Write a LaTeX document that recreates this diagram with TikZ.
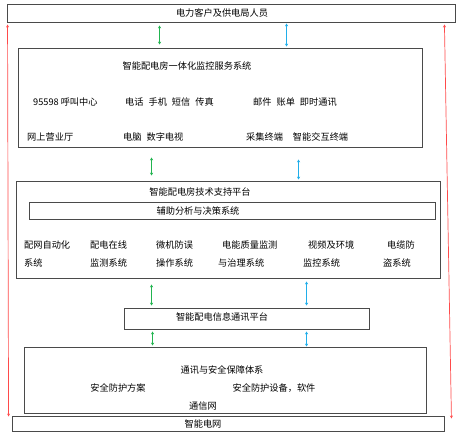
\documentclass[tikz,border=0pt]{standalone}
\usepackage{fontspec}
\usepackage{xcolor}
\usepackage{tikz}
\usetikzlibrary{arrows.meta}
\newfontfamily\cjk{Noto Sans CJK SC}

\definecolor{boxgray}{HTML}{4A4A4A}
\definecolor{arrgreen}{HTML}{22B450}
\definecolor{arrblue}{HTML}{20AEEA}
\definecolor{arrred}{HTML}{FF4A4A}

\tikzset{
  box/.style={draw=boxgray, line width=0.9pt, rectangle, inner sep=0pt},
  txt/.style={inner sep=0pt, font=\cjk\fontsize{9.2}{11}\selectfont},
  ltxt/.style={txt, anchor=west},
  greenarr/.style={draw=arrgreen, line width=1pt, {Stealth[length=3pt,width=3.2pt]}-{Stealth[length=3pt,width=3.2pt]}},
  bluearr/.style={draw=arrblue, line width=1pt, {Stealth[length=3pt,width=3.2pt]}-{Stealth[length=3pt,width=3.2pt]}},
  redarr/.style={draw=arrred, line width=0.7pt, {Stealth[length=3pt,width=3pt]}-{Stealth[length=3pt,width=3pt]}}
}
\newcommand{\gap}{\hspace{5pt}}

\begin{document}
\begin{tikzpicture}[x=1pt,y=-1pt]
\useasboundingbox (0,0) rectangle (461,437);

% the boxes
\node[box, minimum width=448pt, minimum height=18pt] (users) at (231,13) {};
\node[box, minimum width=404pt, minimum height=99pt] (service) at (220,97.5) {};
\node[box, minimum width=424pt, minimum height=97pt] (support) at (228,229.5) {};
\node[box, minimum width=406pt, minimum height=17pt] (decision) at (232,210.5) {};
\node[box, minimum width=245pt, minimum height=21pt] (comm) at (246.5,318.5) {};
\node[box, minimum width=402pt, minimum height=66pt] (security) at (225,380) {};
\node[box, minimum width=432pt, minimum height=15pt] (grid) at (228,423.5) {};

% texts
\node[txt] (usersT) at (222,13) {电力客户及供电局人员};

\node[txt] (serviceT) at (187,66) {智能配电房一体化监控服务系统};
\node[ltxt] (callT) at (33,102) {95598 呼叫中心};
\node[ltxt] (phoneT) at (125,102) {电话\gap 手机\gap 短信\gap 传真};
\node[ltxt] (mailT) at (253,102) {邮件\gap 账单\gap 即时通讯};
\node[ltxt] (webT) at (27,137) {网上营业厅};
\node[ltxt] (pcT) at (123,137) {电脑\gap 数字电视};
\node[ltxt] (termT) at (246,137) {采集终端\gap\gap 智能交互终端};

\node[txt] (supportT) at (200,192) {智能配电房技术支持平台};
\node[txt] (decisionT) at (198,210.5) {辅助分析与决策系统};
\node[ltxt] (sysA1) at (24,245) {配网自动化};
\node[ltxt] (sysA2) at (24,263) {系统};
\node[ltxt] (sysB1) at (90,245) {配电在线};
\node[ltxt] (sysB2) at (90,263) {监测系统};
\node[ltxt] (sysC1) at (156,245) {微机防误};
\node[ltxt] (sysC2) at (156,263) {操作系统};
\node[ltxt] (sysD1) at (222,245) {电能质量监测};
\node[ltxt] (sysD2) at (218,263) {与治理系统};
\node[ltxt] (sysE1) at (308,245) {视频及环境};
\node[ltxt] (sysE2) at (303,263) {监控系统};
\node[ltxt] (sysF1) at (387,245) {电缆防};
\node[ltxt] (sysF2) at (383,263) {盗系统};

\node[txt] (commT) at (222,317) {智能配电信息通讯平台};

\node[txt] (securityT) at (222,370) {通讯与安全保障体系};
\node[txt] (planT) at (118,388) {安全防护方案};
\node[txt] (devT) at (274,388) {安全防护设备，软件};
\node[txt] (netT) at (203,406) {通信网};

\node[txt] (gridT) at (203,424) {智能电网};

% arrows between the layers
\draw[greenarr] ([xshift=153pt,yshift=-3pt]users.south west) -- ([xshift=142pt,yshift=3pt]service.north west);
\draw[bluearr] ([xshift=280pt,yshift=-1pt]users.south west) -- ([xshift=269pt,yshift=1pt]service.north west);
\draw[greenarr] ([xshift=134pt,yshift=-10pt]service.south west) -- ([xshift=136pt,yshift=5pt]support.north west);
\draw[bluearr] ([xshift=281pt,yshift=-12pt]service.south west) -- ([xshift=283pt,yshift=1pt]support.north west);
\draw[greenarr] ([xshift=136pt,yshift=-6pt]support.south west) -- ([xshift=28pt,yshift=2pt]comm.north west);
\draw[bluearr] ([xshift=291pt,yshift=-3pt]support.south west) -- ([xshift=183pt,yshift=2pt]comm.north west);
\draw[greenarr] ([xshift=29pt,yshift=-2pt]comm.south west) -- ([xshift=129pt,yshift=1pt]security.north west);
\draw[bluearr] ([xshift=183pt,yshift=-2pt]comm.south west) -- ([xshift=283pt,yshift=0pt]security.north west);

% the two red lines at the sides
\draw[redarr] ([xshift=1pt,yshift=-2pt]users.south west) -- ([xshift=-3pt,yshift=-1pt]grid.north west);
\draw[redarr] ([xshift=-11pt,yshift=-2pt]users.south east) -- ([xshift=7pt,yshift=-3pt]grid.north east);
\end{tikzpicture}
\end{document}
